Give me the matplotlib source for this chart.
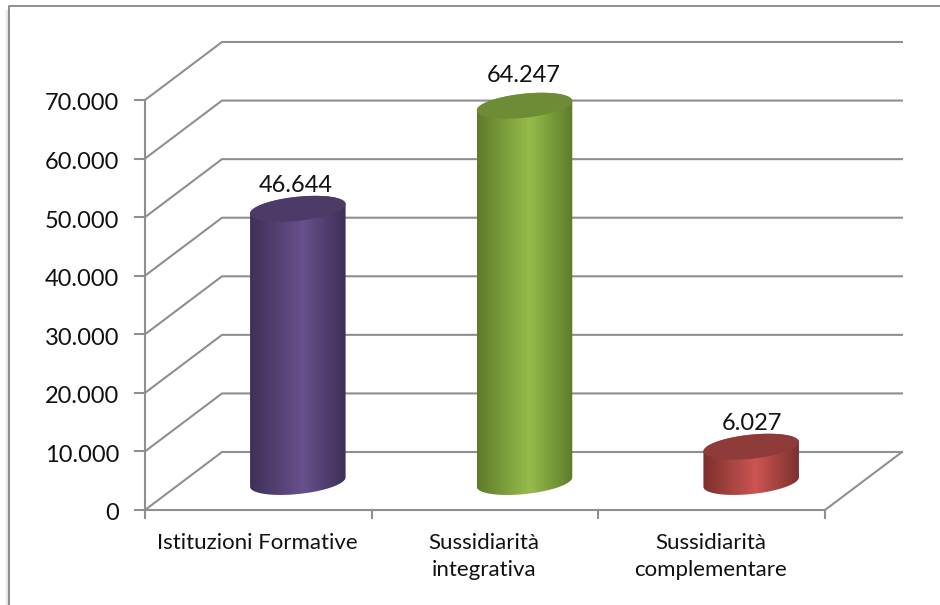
import numpy as np
import matplotlib
matplotlib.use('Agg')
import matplotlib.pyplot as plt
from matplotlib.colors import LinearSegmentedColormap
from matplotlib.patches import Polygon

categories = ['Istituzioni Formative', 'Sussidiarità\nintegrativa', 'Sussidiarità\ncomplementare']
values = [46644, 64247, 6027]
y_ticks = [0, 10000, 20000, 30000, 40000, 50000, 60000, 70000]
edge_colors = ['#3e2f57', '#5e7b2b', '#7c302e']
mid_colors = ['#68518c', '#96bc4b', '#cc5552']
top_colors = ['#4c3b66', '#6e8b35', '#8e3b39']

# layout of the fake 3d box, in pixels
X0, X1, Y0 = 145, 825, 510
DX, DY = 77, 58
PX_PER_UNIT = 410 / 70000
BAR_A = 48
BAR_B = 12
TILT = np.radians(-6)
GRID = '#8f8f8f'
TEXT = '#111111'
# small nudges for the value labels
LABEL_DX = [-2, -1, 1]
LABEL_DY = [-23, -30, -23]

plt.rcParams['font.family'] = ['Lato', 'DejaVu Sans']

fig = plt.figure(figsize=(9.4, 6.05), dpi=100)
ax = fig.add_axes([0, 0, 1, 1])
ax.set_xlim(0, 940)
ax.set_ylim(605, 0)
ax.axis('off')


def val_y(v):
    return Y0 - v * PX_PER_UNIT


def arc(cx, cy, start, stop):
    t = np.linspace(start, stop, 80)
    ex = BAR_A * np.cos(t)
    ey = BAR_B * np.sin(t)
    return np.c_[cx + ex * np.cos(TILT) - ey * np.sin(TILT),
                 cy + ex * np.sin(TILT) + ey * np.cos(TILT)]


# chart frame with soft shadow on the left
for i, a in enumerate([0.03, 0.06, 0.1, 0.16]):
    ax.plot([5 + i, 5 + i], [10, 605], color='black', alpha=a, lw=0.8, zorder=1)
ax.plot([9, 9, 940], [605, 6, 6], color='#868686', lw=1.3, zorder=2)

# walls and floor
for v in y_ticks:
    y = val_y(v)
    ax.plot([X0, X0 + DX, X1 + DX], [y, y - DY, y - DY], color=GRID, lw=1.5, zorder=3,
            solid_joinstyle='miter')
    ax.plot([X0 - 10, X0], [y, y], color=GRID, lw=1.5, zorder=3)
    label = f'{v:,}'.replace(',', '.')
    ax.text(X0 - 26, y + 4, label, ha='right', va='center', fontsize=17, color=TEXT, zorder=6)
ax.plot([X0, X0], [val_y(70000), Y0], color=GRID, lw=1.5, zorder=3)
ax.plot([X0, X1, X1 + DX], [Y0, Y0, Y0 - DY], color=GRID, lw=1.5, zorder=3)

# category axis
n = len(categories)
step = (X1 - X0) / n
for i in range(n + 1):
    ax.plot([X0 + i * step] * 2, [Y0, Y0 + 8], color=GRID, lw=1.5, zorder=3)
for i, cat in enumerate(categories):
    ax.text(X0 + (i + 0.5) * step - 1, 533, cat, ha='center', va='top', fontsize=16,
            color=TEXT, linespacing=1.45, zorder=6)

# cylinders
t0 = np.arctan2(-BAR_B * np.sin(TILT), BAR_A * np.cos(TILT))
for i, v in enumerate(values):
    cx = X0 + (i + 0.5) * step + DX / 2 + 1
    base = Y0 - DY / 2 + 1
    top = base - v * PX_PER_UNIT
    body = np.r_[arc(cx, top, t0 + np.pi, t0 + 2 * np.pi), arc(cx, base, t0, t0 + np.pi)]
    cmap = LinearSegmentedColormap.from_list(
        f'bar{i}', [(0, edge_colors[i]), (0.55, mid_colors[i]), (1, edge_colors[i])])
    im = ax.imshow(np.linspace(0, 1, 256)[None, :], cmap=cmap, aspect='auto', zorder=4,
                   extent=[cx - BAR_A, cx + BAR_A, base + 20, top - 20])
    im.set_clip_path(Polygon(body, closed=True, transform=ax.transData))
    ax.add_patch(Polygon(arc(cx, top, 0, 2 * np.pi), closed=True, fc=top_colors[i], ec='none', zorder=5))
    ax.text(cx + LABEL_DX[i], top + LABEL_DY[i], f'{v:,}'.replace(',', '.'), ha='center', va='center',
            fontsize=17, color=TEXT, zorder=6)

ax.set_xlim(0, 940)
ax.set_ylim(605, 0)
fig.savefig('out.png', dpi=100)
